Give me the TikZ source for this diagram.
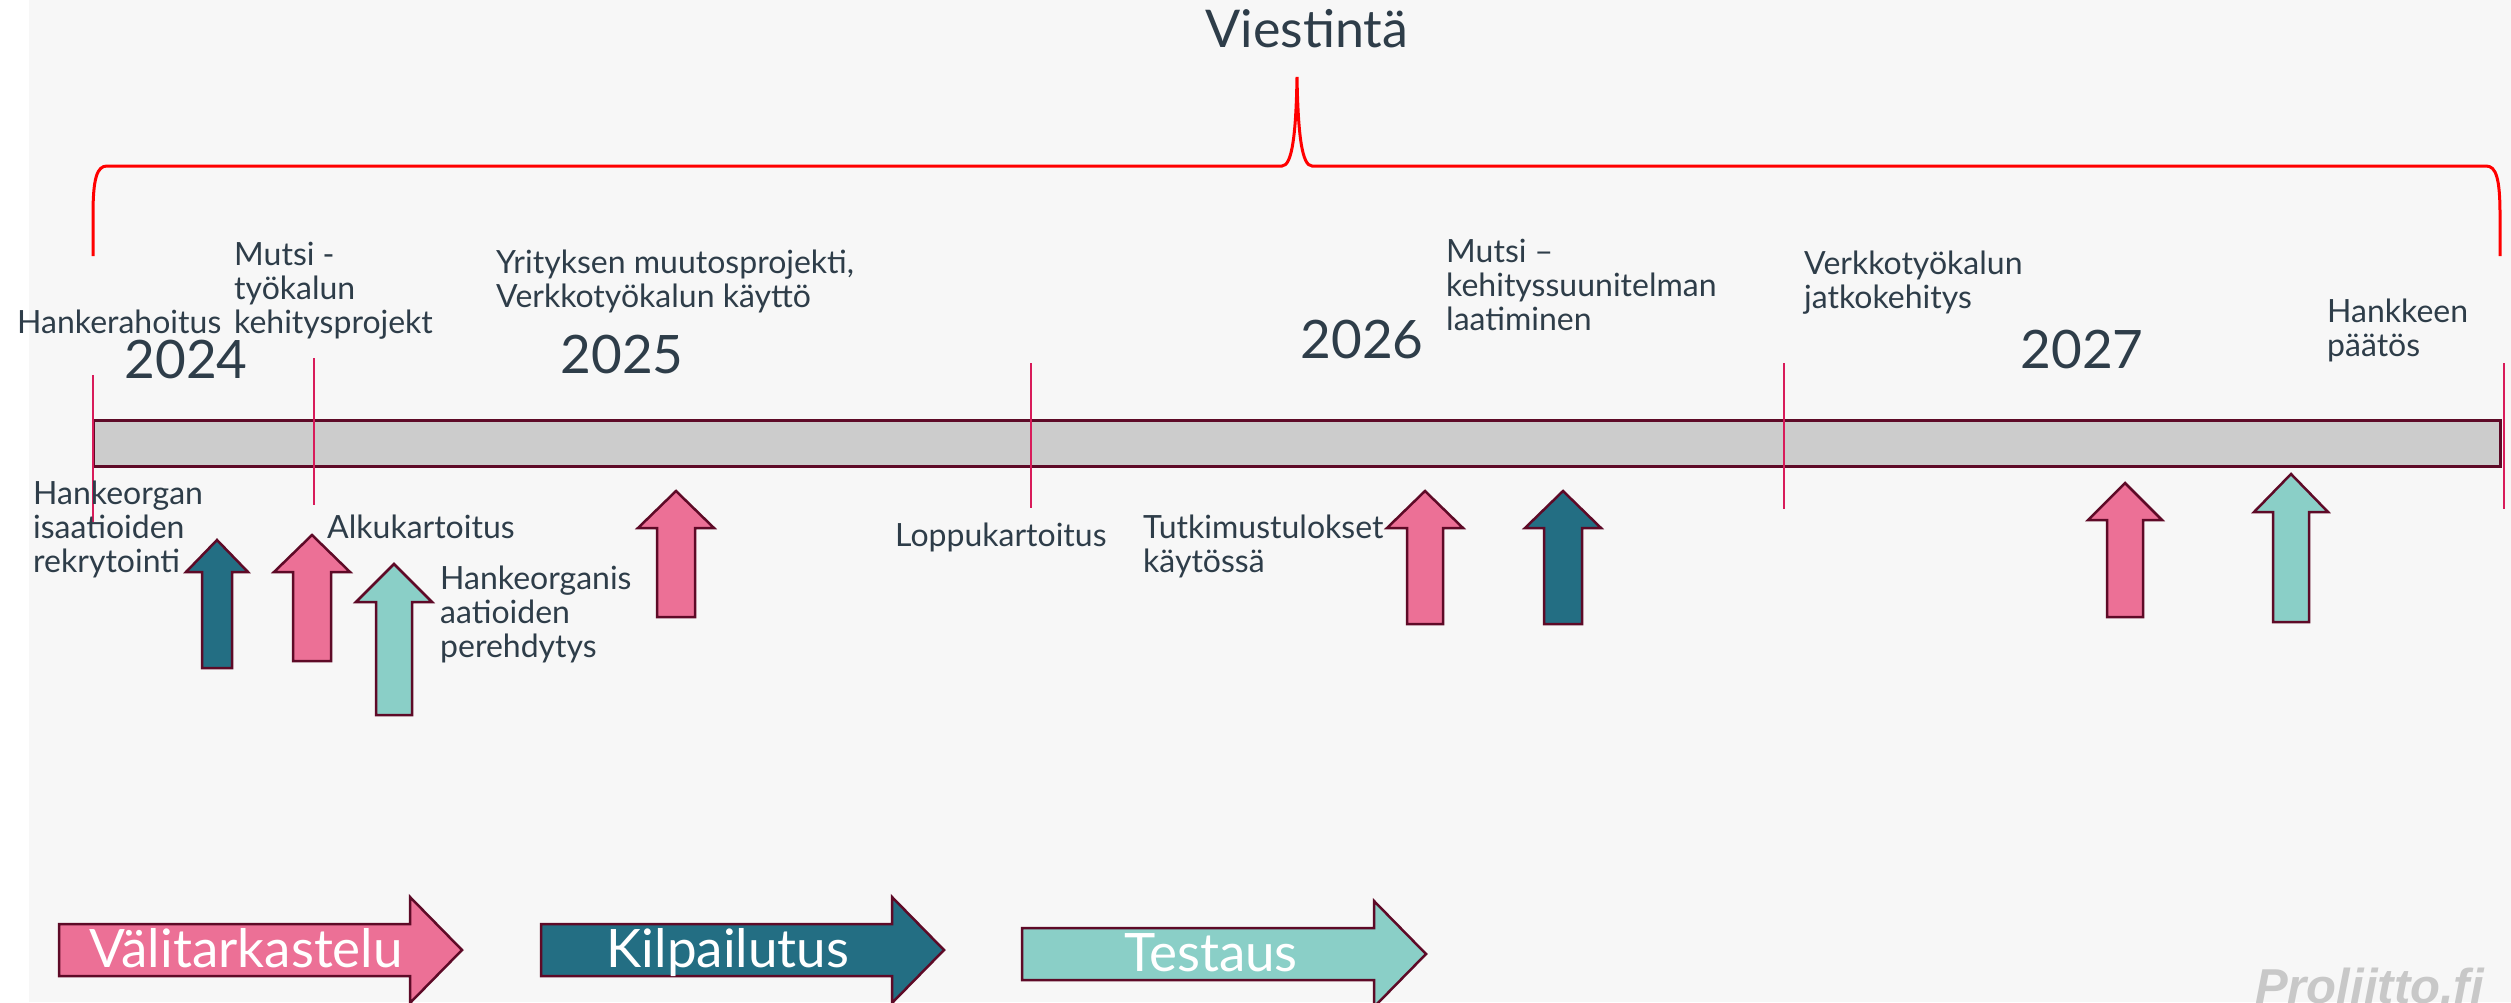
\documentclass[tikz,border=0pt]{standalone}
\usepackage{fontspec}
\setmainfont{Lato}
\newfontfamily\wmfont{Liberation Sans}
\definecolor{bgc}{HTML}{F7F7F7}
\definecolor{txt}{HTML}{2E3D49}
\definecolor{brd}{HTML}{5E0A27}
\definecolor{barfill}{HTML}{CCCCCC}
\definecolor{pinkc}{HTML}{EC7096}
\definecolor{tealc}{HTML}{236E83}
\definecolor{mintc}{HTML}{8ACFC7}
\definecolor{tickc}{HTML}{D81B5A}
\definecolor{wmc}{HTML}{C8C8C8}
\definecolor{bracec}{HTML}{FF0000}
\tikzset{
  lbl/.style={font=\fontsize{32}{34}\selectfont, text=txt, inner sep=0pt, align=left, anchor=base west},
  year/.style={font=\fontsize{53}{58}\selectfont, text=txt, inner sep=0pt, anchor=base},
  title/.style={font=\fontsize{52}{58}\selectfont, text=txt, inner sep=0pt, anchor=base},
  phase/.style={font=\fontsize{53}{58}\selectfont, text=white, inner sep=0pt, anchor=base},
  arrowbox/.style={draw=brd, line width=2.5pt, line join=miter},
  tickline/.style={draw=tickc, line width=2pt},
  bracel/.style={draw=bracec, line width=3pt},
}
\newcommand\UpArr[7]{%
  \filldraw[arrowbox, fill=#1] (#2,#3) -- (#2+#6,#4) -- (#2+#7,#4) -- (#2+#7,#5)
     -- (#2-#7,#5) -- (#2-#7,#4) -- (#2-#6,#4) -- cycle;}
\newcommand\RightArr[9]{%
  \filldraw[arrowbox, fill=#1] (#2,#3) -- (#5,#3) -- (#5,#6) -- (#8,#9) -- (#5,#7)
     -- (#5,#4) -- (#2,#4) -- cycle;}
\begin{document}
\begin{tikzpicture}[x=1pt,y=-1pt]
\useasboundingbox (0,0) rectangle (2511,1002);
\fill[white] (0,0) rectangle (2511,1002);
\fill[bgc] (29,0) rectangle (2511,1002);

% title and brace
\node[title] (viestinta) at (1307,47) {Viestintä};
\draw[bracel] (93,256) -- (93,215) .. controls (93,178) and (97,166) .. (107,166)
  -- (1282,166) .. controls (1292,166) and (1296,135) .. (1297,77)
  .. controls (1298,135) and (1302,166) .. (1312,166)
  -- (2486,166) .. controls (2496,166) and (2500,178) .. (2500,215) -- (2500,256);

% bar
\filldraw[fill=barfill, draw=brd, line width=3pt] (93,420) rectangle (2500,466);
\coordinate (bar) at (1296,443);

% ticks
\draw[tickline] (93,375) -- (93,522);
\draw[tickline] (314,358) -- (314,505);
\draw[tickline] (1031,363) -- (1031,508);
\draw[tickline] (1784,363) -- (1784,509);
\draw[tickline] (2504,363) -- (2504,509);

% years
\node[year] (y2024) at (186,378) {2024};
\node[year] (y2025) at (622,373) {2025};
\node[year] (y2026) at (1362,358) {2026};
\node[year] (y2027) at (2082,368) {2027};

% labels above (anchored at the baseline of the last line)
\node[lbl] (hankerahoitus) at (17,333) {Hankerahoitus};
\node[lbl] (mutsi1) at (234,333) {Mutsi -\\työkalun\\kehitysprojekt};
\node[lbl] (yritys) at (496,307) {Yrityksen muutosprojekti,\\Verkkotyökalun käyttö};
\node[lbl] (mutsi2) at (1446,330) {Mutsi –\\kehityssuunitelman\\laatiminen};
\node[lbl] (verkko) at (1804,308) {Verkkotyökalun\\jatkokehitys};
\node[lbl] (paatos) at (2327,356) {Hankkeen\\päätös};

% labels below
\node[lbl] (rekry) at (33,572) {Hankeorgan\\isaatioiden\\rekrytointi};
\node[lbl] (alku) at (327,538) {Alkukartoitus};
\node[lbl] (perehd) at (440,657) {Hankeorganis\\aatioiden\\perehdytys};
\node[lbl] (loppu) at (895,546) {Loppukartoitus};
\node[lbl] (tutk) at (1143,572) {Tutkimustulokset\\käytössä};

% up arrows: color, cx, tip, base, bottom, headhalf, bodyhalf
\UpArr{tealc}{217}{540}{572}{668}{31}{15}
\UpArr{pinkc}{312}{535}{572}{661}{38}{19}
\UpArr{mintc}{394}{564}{602}{715}{38}{18}
\UpArr{pinkc}{676}{491}{528}{617}{38}{19}
\UpArr{pinkc}{1425}{491}{528}{624}{38}{18}
\UpArr{tealc}{1563}{491}{528}{624}{38}{19}
\UpArr{pinkc}{2125}{483}{520}{617}{37}{18}
\UpArr{mintc}{2291}{474}{512}{622}{37}{18}

% phase arrows
\RightArr{pinkc}{59}{924}{976}{410}{897}{1003}{462}{950}
\RightArr{tealc}{541}{924}{976}{892}{897}{1003}{944}{950}
\RightArr{mintc}{1022}{928}{980}{1374}{901}{1007}{1426}{954}
\node[phase] (valitark) at (246,967) {Välitarkastelu};
\node[phase] (kilpailu) at (728,967) {Kilpailutus};
\node[phase] (testaus) at (1211,971) {Testaus};

% watermark
\node[font=\wmfont\bfseries\itshape\fontsize{49}{55}\selectfont, text=wmc, inner sep=0pt, anchor=base west] (wm) at (2255,1003) {Proliitto.fi};
\end{tikzpicture}
\end{document}
